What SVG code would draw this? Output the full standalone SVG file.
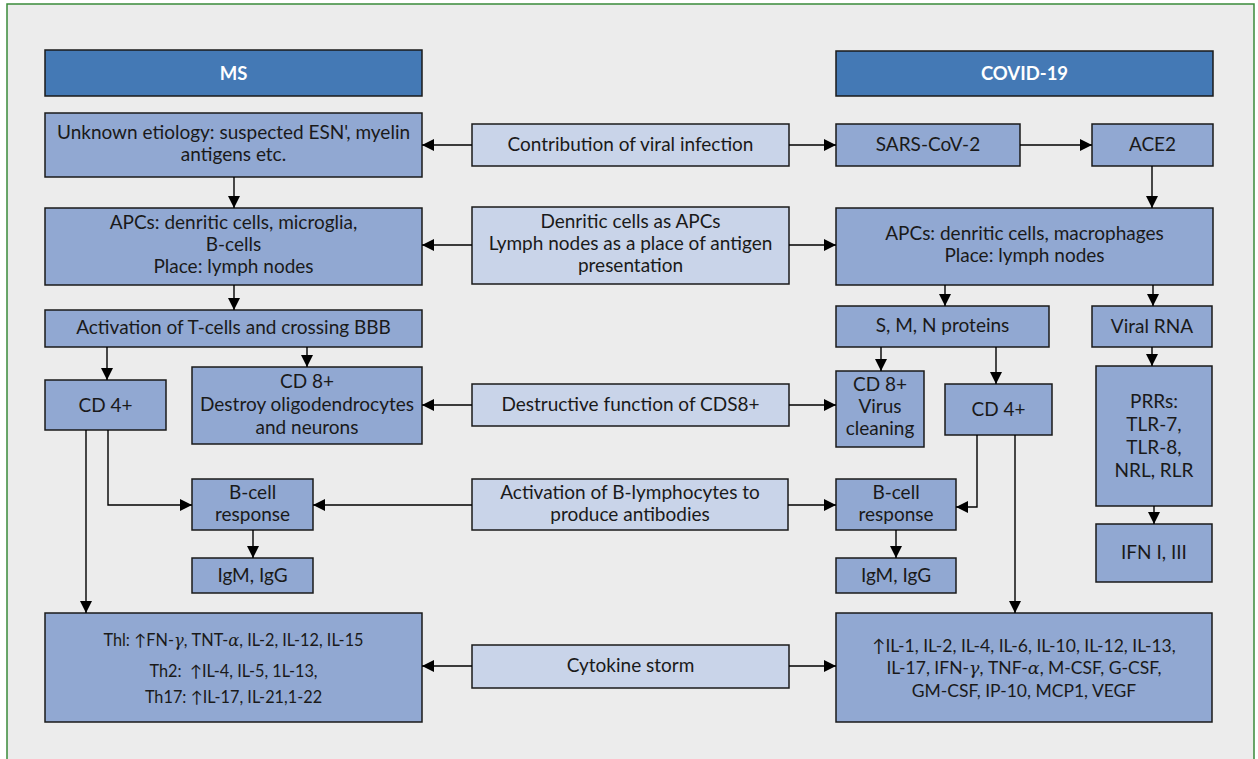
<svg xmlns="http://www.w3.org/2000/svg" width="1258" height="759" viewBox="0 0 1258 759">
<defs>
<marker id="ah" viewBox="0 0 10 10" refX="10" refY="5" markerWidth="12" markerHeight="12" markerUnits="userSpaceOnUse" orient="auto">
<path d="M0,0 L10,5 L0,10 z" fill="#000"/>
</marker>
<style>
.hdr{fill:#4479b5;stroke:#1a1a1a;stroke-width:1.5}
.nd{fill:#91a8d2;stroke:#1a1a1a;stroke-width:1.5}
.md{fill:#c9d4e9;stroke:#1a1a1a;stroke-width:1.5}
text{font-family:Lato,"Open Sans","Liberation Sans",sans-serif;font-size:19px;fill:#1a1a1a;text-anchor:middle}
.ht{fill:#fff;font-weight:bold;font-size:18.5px}
.sm{font-size:16.3px}
.sc{font-size:17.5px}
.gr{font-family:"DejaVu Serif","Liberation Serif",serif;font-style:italic}
.cn{fill:none;stroke:#000;stroke-width:1.4}
</style>
</defs>
<rect x="7" y="4" width="1247" height="770" fill="#ececec" stroke="#3a8a3a" stroke-width="1.5"/>

<g id="ms-header"><rect class="hdr" x="45" y="50" width="377" height="46"/><text class="ht" x="233.5" y="80">MS</text></g>
<g id="covid-header"><rect class="hdr" x="836" y="51" width="377" height="45"/><text class="ht" x="1024.5" y="80">COVID-19</text></g>

<g id="unknown"><rect class="nd" x="45" y="113" width="377" height="64"/><text x="233.5" y="139">Unknown etiology: suspected ESN', myelin</text><text x="233.5" y="161">antigens etc.</text></g>
<g id="contribution"><rect class="md" x="472" y="124" width="317" height="42"/><text x="630.5" y="151">Contribution of viral infection</text></g>
<g id="sars"><rect class="nd" x="836" y="124" width="184" height="42"/><text x="928" y="151">SARS-CoV-2</text></g>
<g id="ace2"><rect class="nd" x="1092" y="124" width="121" height="42"/><text x="1152.5" y="151">ACE2</text></g>

<g id="apcs-ms"><rect class="nd" x="45" y="208" width="377" height="77"/><text x="233.5" y="229">APCs: denritic cells, microglia,</text><text x="233.5" y="251">B-cells</text><text x="233.5" y="273">Place: lymph nodes</text></g>
<g id="denritic"><rect class="md" x="472" y="207" width="317" height="77"/><text x="630.5" y="228">Denritic cells as APCs</text><text x="630.5" y="250">Lymph nodes as a place of antigen</text><text x="630.5" y="272">presentation</text></g>
<g id="apcs-covid"><rect class="nd" x="836" y="208" width="377" height="77"/><text x="1024.5" y="240">APCs: denritic cells, macrophages</text><text x="1024.5" y="262">Place: lymph nodes</text></g>

<g id="activation-t"><rect class="nd" x="45" y="310" width="377" height="37"/><text x="233.5" y="334">Activation of T-cells and crossing BBB</text></g>
<g id="smn"><rect class="nd" x="836" y="306" width="213" height="41"/><text x="942.5" y="332">S, M, N proteins</text></g>
<g id="viral-rna"><rect class="nd" x="1092" y="306" width="120" height="41"/><text x="1152" y="333">Viral RNA</text></g>

<g id="cd4-ms"><rect class="nd" x="45" y="380" width="121" height="50"/><text x="105.5" y="412">CD 4+</text></g>
<g id="cd8-ms"><rect class="nd" x="192" y="367" width="230" height="77"/><text x="307" y="388">CD 8+</text><text x="307" y="411">Destroy oligodendrocytes</text><text x="307" y="434">and neurons</text></g>
<g id="destructive"><rect class="md" x="472" y="384" width="317" height="42"/><text x="630.5" y="411">Destructive function of CDS8+</text></g>
<g id="cd8-covid"><rect class="nd" x="836" y="371" width="88" height="76"/><text x="880" y="391">CD 8+</text><text x="880" y="413">Virus</text><text x="880" y="435">cleaning</text></g>
<g id="cd4-covid"><rect class="nd" x="945" y="384" width="107" height="51"/><text x="998.5" y="416">CD 4+</text></g>
<g id="prrs"><rect class="nd" x="1096" y="366" width="116" height="140"/><text x="1154" y="408">PRRs:</text><text x="1154" y="431">TLR-7,</text><text x="1154" y="454">TLR-8,</text><text x="1154" y="477">NRL, RLR</text></g>

<g id="bcell-ms"><rect class="nd" x="192" y="479" width="121" height="51"/><text x="252.5" y="499">B-cell</text><text x="252.5" y="521">response</text></g>
<g id="activation-b"><rect class="md" x="472" y="479" width="316" height="51"/><text x="630" y="499">Activation of B-lymphocytes to</text><text x="630" y="521">produce antibodies</text></g>
<g id="bcell-covid"><rect class="nd" x="836" y="479" width="120" height="51"/><text x="896" y="499">B-cell</text><text x="896" y="521">response</text></g>
<g id="ifn"><rect class="nd" x="1096" y="524" width="116" height="58"/><text x="1154" y="559">IFN I, III</text></g>

<g id="igm-ms"><rect class="nd" x="192" y="558" width="121" height="35"/><text x="252.5" y="582">IgM, IgG</text></g>
<g id="igm-covid"><rect class="nd" x="836" y="558" width="120" height="35"/><text x="896" y="582">IgM, IgG</text></g>

<g id="cytokines-ms"><rect class="nd" x="45" y="613" width="377" height="109"/>
<text class="sm" x="233.5" y="646">Thl: ↑FN-<tspan class="gr">γ</tspan>, TNT-<tspan class="gr">α</tspan>, IL-2, IL-12, IL-15</text>
<text class="sm" x="233.5" y="677">Th2:&#160; ↑IL-4, IL-5, 1L-13,</text>
<text class="sm" x="233.5" y="703">Th17: ↑IL-17, IL-21,1-22</text></g>
<g id="cytokine-storm"><rect class="md" x="472" y="645" width="317" height="43"/><text x="630.5" y="672">Cytokine storm</text></g>
<g id="cytokines-covid"><rect class="nd" x="836" y="613" width="376" height="109"/>
<text class="sc" x="1024" y="652">↑IL-1, IL-2, IL-4, IL-6, IL-10, IL-12, IL-13,</text>
<text class="sc" x="1024" y="674">IL-17, IFN-<tspan class="gr">γ</tspan>, TNF-<tspan class="gr">α</tspan>, M-CSF, G-CSF,</text>
<text class="sc" x="1024" y="697">GM-CSF, IP-10, MCP1, VEGF</text></g>

<g id="connectors">
<path class="cn" marker-end="url(#ah)" d="M472,145 H422"/>
<path class="cn" marker-end="url(#ah)" d="M789,145 H836"/>
<path class="cn" marker-end="url(#ah)" d="M1020,145 H1092"/>
<path class="cn" marker-end="url(#ah)" d="M1152,166 V208"/>
<path class="cn" marker-end="url(#ah)" d="M234,177 V208"/>
<path class="cn" marker-end="url(#ah)" d="M472,245 H422"/>
<path class="cn" marker-end="url(#ah)" d="M789,245 H836"/>
<path class="cn" marker-end="url(#ah)" d="M234,285 V310"/>
<path class="cn" marker-end="url(#ah)" d="M945,285 V306"/>
<path class="cn" marker-end="url(#ah)" d="M1153,285 V306"/>
<path class="cn" marker-end="url(#ah)" d="M107,347 V380"/>
<path class="cn" marker-end="url(#ah)" d="M307,347 V367"/>
<path class="cn" marker-end="url(#ah)" d="M881,347 V371"/>
<path class="cn" marker-end="url(#ah)" d="M996,347 V384"/>
<path class="cn" marker-end="url(#ah)" d="M1152,347 V366"/>
<path class="cn" marker-end="url(#ah)" d="M1154,506 V524"/>
<path class="cn" marker-end="url(#ah)" d="M472,405 H422"/>
<path class="cn" marker-end="url(#ah)" d="M789,405 H836"/>
<path class="cn" marker-end="url(#ah)" d="M108,430 V505 H192"/>
<path class="cn" marker-end="url(#ah)" d="M86,430 V613"/>
<path class="cn" marker-end="url(#ah)" d="M472,505 H313"/>
<path class="cn" marker-end="url(#ah)" d="M788,505 H836"/>
<path class="cn" marker-end="url(#ah)" d="M253,530 V558"/>
<path class="cn" marker-end="url(#ah)" d="M896,530 V558"/>
<path class="cn" marker-end="url(#ah)" d="M977,435 V507 H956"/>
<path class="cn" marker-end="url(#ah)" d="M1015,435 V613"/>
<path class="cn" marker-end="url(#ah)" d="M472,666 H422"/>
<path class="cn" marker-end="url(#ah)" d="M789,666 H836"/>
</g>
</svg>
